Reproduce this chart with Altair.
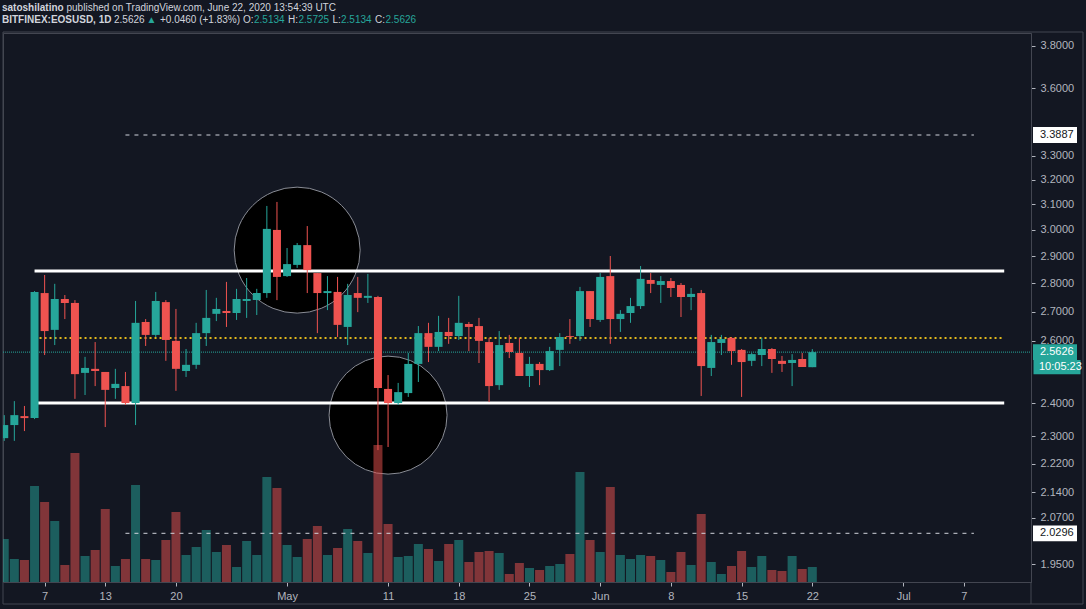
import altair as alt
import pandas as pd

# ---------------- data ----------------
dates = pd.date_range("2020-04-03", "2020-06-22", freq="D").strftime("%Y-%m-%d").tolist()

opens = [2.294, 2.333, 2.360, 2.354, 2.765, 2.637, 2.744, 2.730, 2.495, 2.508, 2.498, 2.447, 2.453, 2.400,
         2.664, 2.620, 2.733, 2.600, 2.501, 2.521, 2.626, 2.692, 2.702, 2.695, 2.737, 2.740, 2.765, 2.999,
         2.826, 2.867, 2.941, 2.837, 2.765, 2.769, 2.647, 2.765, 2.748, 2.751, 2.444, 2.400, 2.431, 2.524,
         2.626, 2.580, 2.630, 2.616, 2.657, 2.650, 2.596, 2.456, 2.593, 2.560, 2.485, 2.524, 2.504, 2.570,
         2.616, 2.616, 2.772,
         2.671, 2.826, 2.674, 2.695, 2.719, 2.812, 2.794, 2.808, 2.794, 2.751, 2.765, 2.511, 2.593, 2.610,
         2.570, 2.534, 2.553, 2.573, 2.534, 2.527, 2.540, 2.5134]
highs = [2.363, 2.406, 2.391, 2.772, 2.830, 2.798, 2.758, 2.740, 2.547, 2.596, 2.498, 2.508, 2.498, 2.737,
         2.674, 2.769, 2.740, 2.709, 2.573, 2.661, 2.776, 2.748, 2.805, 2.780, 2.819, 2.780, 3.093, 3.109,
         2.930, 2.949, 3.014, 2.837, 2.826, 2.823, 2.798, 2.823, 2.834, 2.755, 2.488, 2.463, 2.560, 2.650,
         2.661, 2.685, 2.678, 2.755, 2.664, 2.678, 2.610, 2.633, 2.620, 2.610, 2.547, 2.530, 2.580, 2.626,
         2.674, 2.787, 2.772,
         2.837, 2.900, 2.705, 2.748, 2.863, 2.837, 2.826, 2.819, 2.801, 2.783, 2.776, 2.620, 2.620, 2.613,
         2.573, 2.560, 2.610, 2.576, 2.550, 2.556, 2.560, 2.5725]
lows = [2.286, 2.286, 2.315, 2.351, 2.553, 2.586, 2.674, 2.413, 2.425, 2.453, 2.327, 2.413, 2.394, 2.333,
        2.583, 2.613, 2.534, 2.438, 2.482, 2.508, 2.583, 2.667, 2.647, 2.671, 2.678, 2.688, 2.748, 2.740,
        2.823, 2.856, 2.765, 2.626, 2.705, 2.613, 2.586, 2.698, 2.730, 2.259, 2.268, 2.394, 2.419, 2.466,
        2.530, 2.566, 2.590, 2.603, 2.566, 2.527, 2.403, 2.441, 2.543, 2.485, 2.450, 2.456, 2.501, 2.517,
        2.590, 2.600, 2.647,
        2.664, 2.590, 2.630, 2.661, 2.709, 2.765, 2.730, 2.751, 2.681, 2.705, 2.422, 2.485, 2.553, 2.521,
        2.419, 2.517, 2.517, 2.495, 2.498, 2.453, 2.514, 2.5134]
closes = [2.333, 2.363, 2.354, 2.769, 2.633, 2.744, 2.730, 2.491, 2.511, 2.501, 2.441, 2.460, 2.400, 2.661,
          2.620, 2.737, 2.603, 2.508, 2.521, 2.626, 2.678, 2.709, 2.695, 2.744, 2.744, 2.765, 3.003, 2.823,
          2.870, 2.941, 2.848, 2.765, 2.772, 2.654, 2.758, 2.748, 2.755, 2.447, 2.400, 2.434, 2.524, 2.626,
          2.580, 2.630, 2.616, 2.661, 2.647, 2.600, 2.453, 2.586, 2.563, 2.485, 2.524, 2.504, 2.566, 2.613,
          2.613, 2.772, 2.674,
          2.823, 2.674, 2.692, 2.719, 2.816, 2.798, 2.808, 2.783, 2.751, 2.762, 2.517, 2.596, 2.606, 2.566,
          2.530, 2.556, 2.573, 2.540, 2.524, 2.537, 2.514, 2.5626]
volumes = [4.3, 2.3, 2.2, 9.6, 8.0, 6.1, 1.7, 12.9, 2.6, 3.2, 7.3, 1.6, 2.3, 9.7, 2.3, 2.2, 4.2, 7.0,
           2.7, 3.5, 5.2, 3.0, 3.7, 1.5, 4.1, 2.7, 10.5, 9.4,
           3.7, 2.5, 4.3, 5.6, 2.7, 3.4, 5.3, 4.1, 2.9, 13.7, 5.8, 2.5, 2.6, 3.8, 3.3, 2.1, 3.8, 4.2,
           2.0, 3.0, 3.1, 2.9, 0.8, 1.9, 1.4, 1.2, 1.6, 1.8, 2.8, 11.0, 4.2,
           3.0, 9.5, 2.7, 2.3, 2.7, 2.6, 2.2, 1.0, 3.0, 1.7, 6.8, 2.0, 0.8, 1.6, 3.1, 1.5, 2.6, 1.2,
           1.1, 2.6, 1.3, 1.5]

# drawing-tool levels
range_start = ["2020-04-06", "2020-04-06"]
range_end = ["2020-07-11", "2020-07-11"]
range_price = [2.845, 2.400]
target_start = ["2020-04-15", "2020-04-15"]
target_end = ["2020-07-08", "2020-07-08"]
target_price = [3.3887, 2.0296]
mid_start = ["2020-04-06"]
mid_end = ["2020-07-11"]
mid_price = [2.61]
last_price = 2.5626
circle_dates = ["2020-05-02", "2020-05-11"]
circle_prices = [2.922, 2.363]

y_ticks = [3.8, 3.6, 3.3, 3.2, 3.1, 3.0, 2.9, 2.8, 2.7, 2.6, 2.4, 2.3, 2.22, 2.14, 2.07, 1.95]
x_ticks = [(4, 7), (4, 13), (4, 20), (5, 1), (5, 11), (5, 18), (5, 25), (6, 1), (6, 8),
           (6, 15), (6, 22), (7, 1), (7, 7)]

# ---------------- style ----------------
TEAL = "#26a69a"
RED = "#ef5350"
BG = "#131722"
TXT = "#d1d4dc"
AX = "#b2b5be"
FRAME = "#434651"
SANS = "Liberation Sans, Arial, sans-serif"

W, H = 1028, 549
DAY = 86400000
t0 = pd.Timestamp("2020-04-07", tz="UTC").value // 10**6
PXD = 10.2
x_dom = [t0 - 37 / PXD * DAY, t0 + 991 / PXD * DAY]
XS = alt.Scale(type="utc", domain=x_dom)
PS = alt.Scale(type="log", domain=[1.9063, 3.8641], nice=False, zero=False)
VS = alt.Scale(domain=[0, 54.9], nice=False, zero=True)

XAXIS = alt.Axis(
    values=[alt.DateTime(year=2020, month=m, date=d, utc=True) for m, d in x_ticks],
    labelExpr="utcdate(datum.value) == 1 ? utcFormat(datum.value, '%b') : '' + utcdate(datum.value)",
    title=None, grid=False, domainColor=FRAME, tickColor=AX, tickSize=4, labelPadding=4,
    labelColor=AX, labelFont=SANS, labelFontSize=11, labelOverlap=False, labelFlush=False,
)


def X(field):
    return alt.X(field, type="temporal", scale=XS, axis=XAXIS, title=None)


def Y(field, axis=None):
    return alt.Y(field, type="quantitative", scale=PS, axis=axis, title=None)


df = pd.DataFrame({"date": dates, "open": opens, "high": highs, "low": lows,
                   "close": closes, "volume": volumes})
COLOR = alt.Color("dir:N", scale=alt.Scale(domain=["up", "down"], range=[TEAL, RED]), legend=None)
base = alt.Chart(df).transform_calculate(dir="datum.close >= datum.open ? 'up' : 'down'")

YAXIS = alt.Axis(orient="right", values=y_ticks, format=".4f", grid=False, domainColor=FRAME,
                 tickColor=AX, tickSize=4, labelPadding=5, labelColor=AX, labelFont=SANS,
                 labelFontSize=11, labelOverlap=False, labelFlush=False, title=None)

# frame
dummy = pd.DataFrame({"a": [0]})
frame = alt.Chart(dummy).mark_rect(fillOpacity=0, stroke=FRAME, strokeWidth=1).encode(
    x=alt.value(0), x2=alt.value(1080), y=alt.value(-1), y2=alt.value(571))
sep = alt.Chart(dummy).mark_rule(color=FRAME).encode(
    x=alt.value(W), y=alt.value(H), y2=alt.value(571))

# circles (diameter = sqrt(size))
circ_df = pd.DataFrame({"date": circle_dates, "price": circle_prices})
circ_top = alt.Chart(circ_df.iloc[[0]]).mark_point(
    shape="circle", filled=True, fill="#000000", stroke="#8a8d96", strokeWidth=1, opacity=1
).encode(x=X("date"), y=Y("price"), size=alt.value(126 * 126))
circ_bot = alt.Chart(circ_df.iloc[[1]]).mark_point(
    shape="circle", filled=True, fill="#000000", stroke="#8a8d96", strokeWidth=1, opacity=1
).encode(x=X("date"), y=Y("price"), size=alt.value(118 * 118))

# volume
vol = base.mark_bar(size=9, opacity=0.5, clip=True).encode(
    x=X("date"), y=alt.Y("volume:Q", scale=VS, axis=None, title=None), color=COLOR)

# level lines
last_line = alt.Chart(pd.DataFrame({"price": [last_price]})).mark_rule(
    color=TEAL, strokeWidth=1, strokeDash=[1, 1]).encode(
    x=alt.value(0), x2=alt.value(W), y=Y("price"))
mid_line = alt.Chart(pd.DataFrame({"start": mid_start, "end": mid_end, "price": mid_price})).mark_rule(
    color="#e0b81c", strokeWidth=2, strokeDash=[2, 3]).encode(
    x=X("start"), x2="end:T", y=Y("price"))
tgt_lines = alt.Chart(pd.DataFrame({"start": target_start, "end": target_end, "price": target_price})).mark_rule(
    color="#d1d4dc", strokeWidth=1, strokeDash=[4, 5]).encode(
    x=X("start"), x2="end:T", y=Y("price"))
rng_lines = alt.Chart(pd.DataFrame({"start": range_start, "end": range_end, "price": range_price})).mark_rule(
    color="#ffffff", strokeWidth=3).encode(
    x=X("start"), x2="end:T", y=Y("price"))

# candles
wicks = base.mark_rule(strokeWidth=1, clip=True).encode(
    x=X("date"), y=Y("low", YAXIS), y2="high:Q", color=COLOR)
bodies = base.mark_bar(size=8, clip=True).encode(
    x=X("date"), y=Y("open"), y2="close:Q", color=COLOR)

# price-scale label boxes
BOX = "M-1,-0.36L1,-0.36L1,0.36L-1,0.36Z"
BOX2 = "M-1,-0.3L1,-0.3L1,0.3L-1,0.3Z"
tgt_df = pd.DataFrame({"price": target_price, "label": ["3.3887", "2.0296"]})
last_df = pd.DataFrame({"price": [last_price], "label": ["2.5626"], "timer": ["10:05:23"]})
tgt_box = alt.Chart(tgt_df).mark_point(shape=BOX, filled=True, fill="#ffffff", opacity=1, strokeWidth=0).encode(
    x=alt.value(1052), y=Y("price"), size=alt.value(1936))
tgt_txt = alt.Chart(tgt_df).mark_text(align="left", baseline="middle", color=BG, font=SANS, fontSize=11).encode(
    x=alt.value(1037), y=Y("price"), text="label:N")
last_box = alt.Chart(last_df).mark_point(shape=BOX, filled=True, fill=TEAL, opacity=1, strokeWidth=0).encode(
    x=alt.value(1052), y=Y("price"), size=alt.value(1936))
last_txt = alt.Chart(last_df).mark_text(align="left", baseline="middle", color="#ffffff", font=SANS, fontSize=11).encode(
    x=alt.value(1037), y=Y("price"), text="label:N")
timer_box = alt.Chart(last_df).mark_point(shape=BOX2, filled=True, fill=TEAL, opacity=1, strokeWidth=0, yOffset=15).encode(
    x=alt.value(1054), y=Y("price"), size=alt.value(2209))
timer_txt = alt.Chart(last_df).mark_text(align="left", baseline="middle", color="#ffffff", font=SANS, fontSize=11, yOffset=15).encode(
    x=alt.value(1036), y=Y("price"), text="timer:N")

# header
header_parts = [
    ("satoshilatino", -1, -25, TXT, "bold"),
    ("published on TradingView.com, June 22, 2020 13:54:39 UTC", 63.5, -25, TXT, "normal"),
    ("BITFINEX:EOSUSD, 1D", -1, -13, TXT, "bold"),
    ("2.5626", 111, -13, TXT, "normal"),
    ("\u25b2", 143.5, -13, TEAL, "normal"),
    ("+0.0460 (+1.83%)", 157, -13, TXT, "normal"),
    ("O:", 240, -13, TXT, "normal"),
    ("2.5134", 251, -13, TEAL, "normal"),
    ("H:", 285, -13, TXT, "normal"),
    ("2.5725", 295.5, -13, TEAL, "normal"),
    ("L:", 329.5, -13, TXT, "normal"),
    ("2.5134", 338, -13, TEAL, "normal"),
    ("C:", 372, -13, TXT, "normal"),
    ("2.5626", 382.5, -13, TEAL, "normal"),
]
header = [
    alt.Chart(dummy).mark_text(align="left", baseline="middle", font=SANS, fontSize=10,
                               fontWeight=fw, color=col).encode(
        x=alt.value(xp), y=alt.value(yp), text=alt.value(t))
    for t, xp, yp, col, fw in header_parts
]

chart = alt.layer(
    frame, sep, circ_top, circ_bot, vol, last_line, mid_line, tgt_lines, rng_lines,
    wicks, bodies, tgt_box, tgt_txt, last_box, last_txt, timer_box, timer_txt, *header
).resolve_scale(y="independent").properties(
    width=W, height=H,
    padding={"left": 3, "top": 33, "right": 55, "bottom": 27},
    autosize=alt.AutoSizeParams(type="none"),
    background=BG,
).configure_view(stroke=FRAME, strokeWidth=1)

chart.save("out.html", embed_options={"renderer": "svg", "actions": False})
